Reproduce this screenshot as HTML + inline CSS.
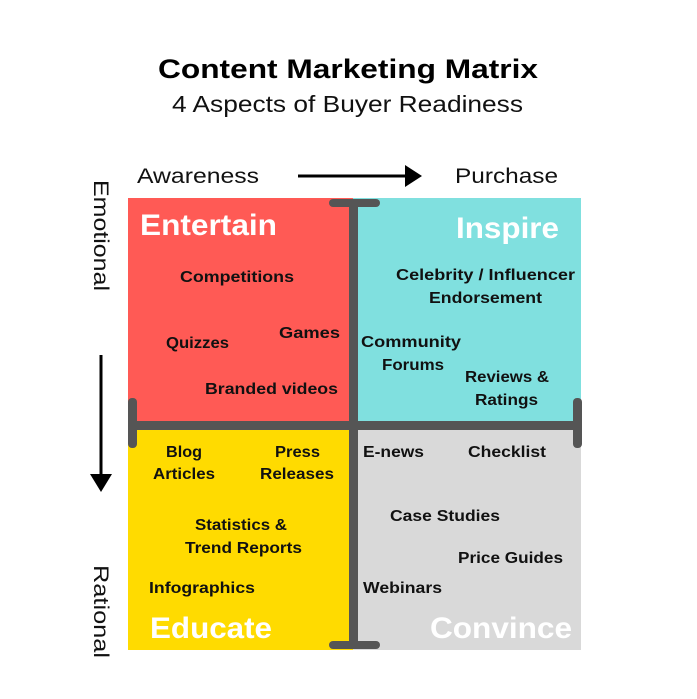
<!DOCTYPE html>
<html><head><meta charset="utf-8"><style>
html,body{margin:0;padding:0;background:#fff;}
svg{display:block;}
text{font-family:"Liberation Sans",sans-serif;}
.t{font-size:16px;font-weight:bold;fill:#111;}
.h{font-size:30px;font-weight:bold;fill:#fff;}
</style></head><body>
<svg width="697" height="699" viewBox="0 0 697 699" xmlns="http://www.w3.org/2000/svg">
<rect width="697" height="699" fill="#fff"/>
<text x="158" y="78" font-size="27" font-weight="bold" fill="#000" textLength="380" lengthAdjust="spacingAndGlyphs">Content Marketing Matrix</text>
<text x="172" y="112" font-size="23" fill="#111" textLength="351" lengthAdjust="spacingAndGlyphs">4 Aspects of Buyer Readiness</text>
<text x="137" y="183" font-size="21" fill="#111" textLength="122" lengthAdjust="spacingAndGlyphs">Awareness</text>
<text x="455" y="183" font-size="21" fill="#111" textLength="103" lengthAdjust="spacingAndGlyphs">Purchase</text>
<line x1="298" y1="176" x2="408" y2="176" stroke="#000" stroke-width="3"/>
<polygon points="405,165 422,176 405,187" fill="#000"/>
<line x1="101" y1="355" x2="101" y2="478" stroke="#000" stroke-width="3"/>
<polygon points="90,474 101,492 112,474" fill="#000"/>
<text transform="translate(94,180) rotate(90)" font-size="21" fill="#111" textLength="111" lengthAdjust="spacingAndGlyphs">Emotional</text>
<text transform="translate(94,565) rotate(90)" font-size="21" fill="#111" textLength="93" lengthAdjust="spacingAndGlyphs">Rational</text>
<rect x="128" y="198" width="225" height="227" fill="#FF5A55"/>
<rect x="353" y="198" width="228" height="227" fill="#80E0DF"/>
<rect x="128" y="425" width="225" height="225" fill="#FFDB00"/>
<rect x="353" y="425" width="228" height="225" fill="#D9D9D9"/>
<rect x="349" y="200" width="9" height="446" fill="#555"/>
<rect x="329" y="199" width="51" height="8" rx="4" fill="#555"/>
<rect x="329" y="641" width="51" height="8" rx="4" fill="#555"/>
<rect x="128" y="421" width="453" height="9" fill="#555"/>
<rect x="128" y="398" width="9" height="50" rx="4" fill="#555"/>
<rect x="573" y="398" width="9" height="50" rx="4" fill="#555"/>
<text class="h" x="140" y="235" textLength="137" lengthAdjust="spacingAndGlyphs">Entertain</text>
<text class="h" x="456" y="238" textLength="103" lengthAdjust="spacingAndGlyphs">Inspire</text>
<text class="h" x="150" y="638" textLength="122" lengthAdjust="spacingAndGlyphs">Educate</text>
<text class="h" x="430" y="638" textLength="142" lengthAdjust="spacingAndGlyphs">Convince</text>
<text class="t" x="180" y="282" textLength="114" lengthAdjust="spacingAndGlyphs">Competitions</text>
<text class="t" x="279" y="338" textLength="61" lengthAdjust="spacingAndGlyphs">Games</text>
<text class="t" x="166" y="348" textLength="63" lengthAdjust="spacingAndGlyphs">Quizzes</text>
<text class="t" x="205" y="394" textLength="133" lengthAdjust="spacingAndGlyphs">Branded videos</text>
<text class="t" x="396" y="280" textLength="179" lengthAdjust="spacingAndGlyphs">Celebrity / Influencer</text>
<text class="t" x="429" y="303" textLength="113" lengthAdjust="spacingAndGlyphs">Endorsement</text>
<text class="t" x="361" y="347" textLength="100" lengthAdjust="spacingAndGlyphs">Community</text>
<text class="t" x="382" y="370" textLength="62" lengthAdjust="spacingAndGlyphs">Forums</text>
<text class="t" x="465" y="382" textLength="84" lengthAdjust="spacingAndGlyphs">Reviews &amp;</text>
<text class="t" x="475" y="405" textLength="63" lengthAdjust="spacingAndGlyphs">Ratings</text>
<text class="t" x="166" y="457" textLength="36" lengthAdjust="spacingAndGlyphs">Blog</text>
<text class="t" x="153" y="479" textLength="62" lengthAdjust="spacingAndGlyphs">Articles</text>
<text class="t" x="275" y="457" textLength="45" lengthAdjust="spacingAndGlyphs">Press</text>
<text class="t" x="260" y="479" textLength="74" lengthAdjust="spacingAndGlyphs">Releases</text>
<text class="t" x="195" y="530" textLength="92" lengthAdjust="spacingAndGlyphs">Statistics &amp;</text>
<text class="t" x="185" y="553" textLength="117" lengthAdjust="spacingAndGlyphs">Trend Reports</text>
<text class="t" x="149" y="593" textLength="106" lengthAdjust="spacingAndGlyphs">Infographics</text>
<text class="t" x="363" y="457" textLength="61" lengthAdjust="spacingAndGlyphs">E-news</text>
<text class="t" x="468" y="457" textLength="78" lengthAdjust="spacingAndGlyphs">Checklist</text>
<text class="t" x="390" y="521" textLength="110" lengthAdjust="spacingAndGlyphs">Case Studies</text>
<text class="t" x="458" y="563" textLength="105" lengthAdjust="spacingAndGlyphs">Price Guides</text>
<text class="t" x="363" y="593" textLength="79" lengthAdjust="spacingAndGlyphs">Webinars</text>
</svg>
</body></html>
